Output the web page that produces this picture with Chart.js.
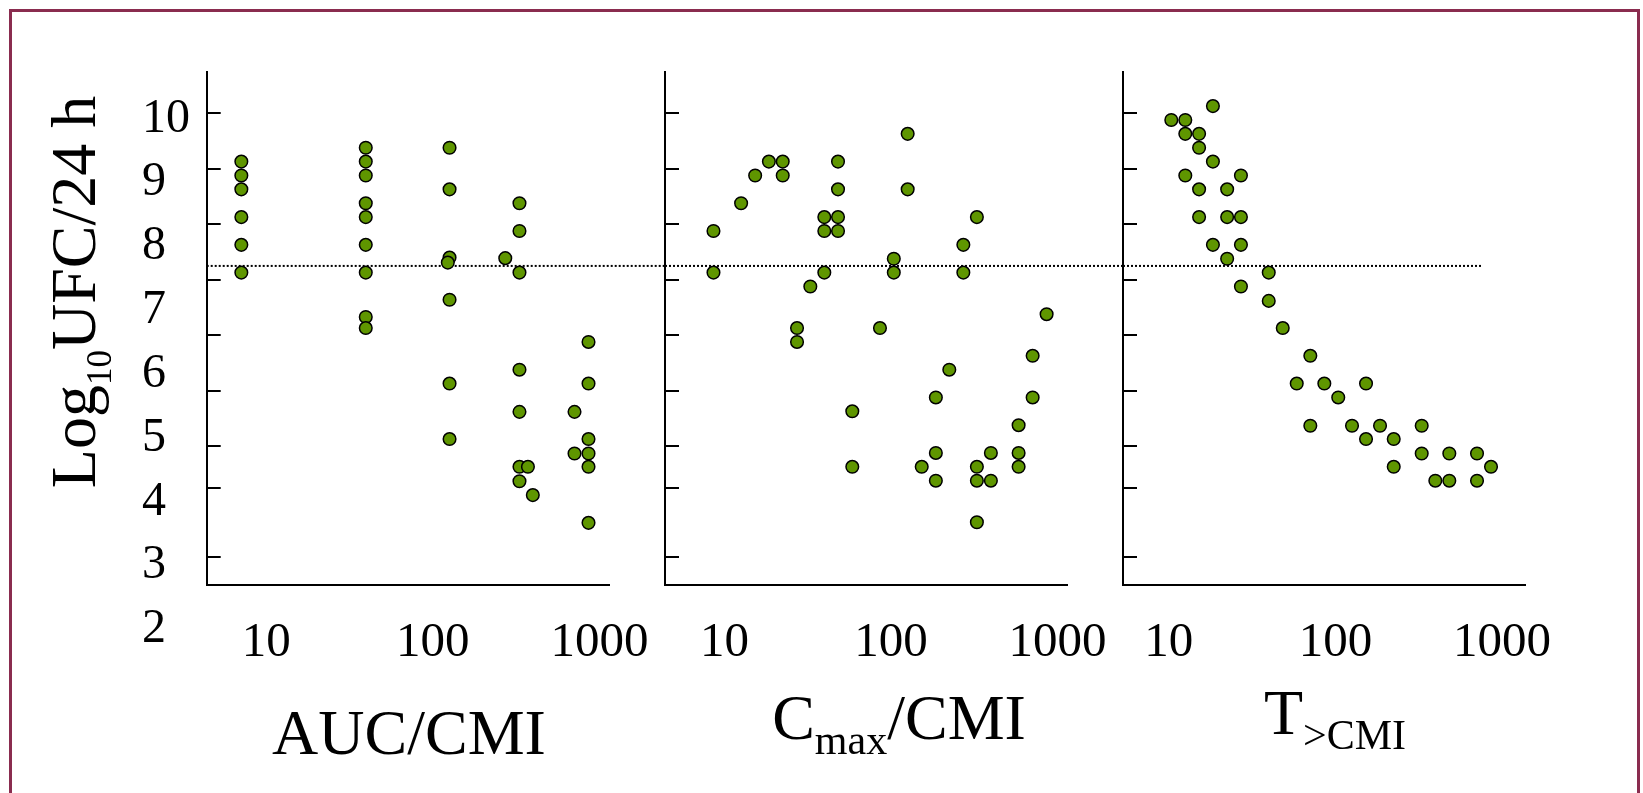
<!DOCTYPE html>
<html>
<head>
<meta charset="utf-8">
<script src="https://cdn.jsdelivr.net/npm/chart.js@4.4.1/dist/chart.umd.min.js"></script>
<style>
  html, body { margin: 0; padding: 0; background: #fff; }
  body { width: 1643px; height: 793px; position: relative; overflow: hidden; font-family: 'Liberation Serif', serif; color: #000; }
  .frame { position: absolute; left: 9px; top: 9px; width: 1631px; height: 820px; box-sizing: border-box;
           border: 3px solid #8a2c4f; border-bottom: none; }
  canvas { position: absolute; top: 40px; }
  .title { position: absolute; width: 500px; height: 64px; font-size: 64px; line-height: 64px;
           text-align: center; white-space: nowrap; }
  .sub { font-size: 42px; position: relative; top: 15px; }
  .sub10 { font-size: 35px; position: relative; top: 16px; }
</style>
</head>
<body>
<div class="frame"></div>
<canvas id="auc" width="565" height="700" style="left:100px"></canvas>
<canvas id="cmax" width="513" height="700" style="left:610px"></canvas>
<canvas id="tcmi" width="530" height="700" style="left:1070px"></canvas>

<div class="title" style="left:-175.6px; top:259.5px; transform: rotate(-90deg)">Log<span class="sub10">10</span>UFC/24 h</div>
<div class="title" style="left:159px; top:701.4px">AUC/CMI</div>
<div class="title" style="left:649px; top:686.4px">C<span class="sub">max</span>/CMI</div>
<div class="title" style="left:1085px; top:681.4px">T<span class="sub">&gt;CMI</span></div>

<script>
// axis values
const xTicks = [10, 100, 1000];
const yTickMarks = [10, 9, 8, 7, 6, 5, 4, 3.25, 2];
const yLabels = [10, 9, 8, 7, 6, 5, 4, 3, 2];
const threshold = 7.25;
const thresholdEndT = 760;   // dotted line stops here in the last panel

// AUC/CMI panel
const aucX = [7.1, 7.1, 7.1, 7.1, 7.1, 7.1,
  39.6, 39.6, 39.6, 39.6, 39.6, 39.6, 39.6, 39.6, 39.6,
  126, 126, 126, 126, 126, 126, 123,
  272,
  331, 331, 331, 331, 331, 331, 331,
  372, 398,
  708, 708,
  859, 859, 859, 859, 859, 859];
const aucY = [9.13, 8.88, 8.63, 8.13, 7.63, 7.13,
  9.38, 9.13, 8.88, 8.38, 8.13, 7.63, 7.13, 6.33, 6.13,
  9.38, 8.63, 7.4, 6.64, 5.13, 4.13, 7.31,
  7.39,
  8.38, 7.88, 7.13, 5.38, 4.62, 3.63, 3.37,
  3.63, 3.12,
  4.62, 3.87,
  5.88, 5.13, 4.13, 3.87, 3.63, 2.62];

// Cmax/CMI panel
const cmaxX = [8.6, 8.6, 12.6, 15.3, 18.5, 22.4, 22.4, 27.3, 27.3, 32.8,
  39.8, 39.8, 39.8, 48.1, 48.1, 48.1, 48.1, 58.6, 58.6, 85.9,
  104, 104, 126, 126, 153, 186, 186, 186, 224, 272,
  272, 328, 328, 328, 328, 398, 398, 584, 584, 584,
  709, 709, 860];
const cmaxY = [7.88, 7.13, 8.38, 8.88, 9.13, 9.13, 8.88, 6.13, 5.88, 6.88,
  8.13, 7.88, 7.13, 9.13, 8.63, 8.13, 7.88, 4.63, 3.63, 6.13,
  7.38, 7.13, 9.63, 8.63, 3.63, 4.88, 3.88, 3.38, 5.38, 7.63,
  7.13, 8.13, 3.63, 3.38, 2.63, 3.88, 3.38, 4.38, 3.88, 3.63,
  5.63, 4.88, 6.38];

// T>CMI panel
const tX = [18.4, 10.35, 12.56, 12.56, 15.2, 15.2, 18.4, 12.56, 27.1, 15.2,
  22.4, 15.2, 22.4, 27.1, 18.4, 27.1, 22.4, 39.8, 27.1, 39.8,
  48.3, 70.7, 58.6, 85.8, 152.7, 104, 70.7, 125.8, 185.3, 329.6,
  152.7, 223.9, 223.9, 329.6, 482.7, 707.9, 859, 397.8, 482.7, 707.9];
const tY = [10.13, 9.88, 9.88, 9.63, 9.63, 9.38, 9.13, 8.88, 8.88, 8.63,
  8.63, 8.13, 8.13, 8.13, 7.63, 7.63, 7.38, 7.13, 6.88, 6.62,
  6.13, 5.63, 5.13, 5.13, 5.13, 4.88, 4.37, 4.37, 4.37, 4.37,
  4.13, 4.13, 3.63, 3.87, 3.87, 3.87, 3.63, 3.38, 3.38, 3.38];

const serif = 'Liberation Serif';

// dotted reference line, drawn under the points
const thresholdLine = {
  id: 'thresholdLine',
  beforeDatasetsDraw(chart, args, opts) {
    const ctx = chart.ctx;
    const y = chart.scales.y.getPixelForValue(opts.value);
    const x0 = chart.chartArea.left;
    const x1 = opts.toValue != null ? chart.scales.x.getPixelForValue(opts.toValue) : chart.width;
    ctx.save();
    ctx.strokeStyle = '#000';
    ctx.lineWidth = 2;
    ctx.setLineDash([2, 2]);
    ctx.beginPath();
    ctx.moveTo(x0, y);
    ctx.lineTo(x1, y);
    ctx.stroke();
    ctx.restore();
  }
};

function makePanel(id, xs, ys, xMin, xMax, padding, withLabels, lineEnd) {
  const scales = {
    x: {
      type: 'logarithmic',
      min: xMin,
      max: xMax,
      afterBuildTicks: s => { s.ticks = xTicks.map(v => ({ value: v })); },
      afterFit: s => { s.height = 155; s.paddingLeft = 0; s.paddingRight = 0; },
      grid: { display: false },
      border: { display: true, color: '#000', width: 2 },
      ticks: {
        autoSkip: false, maxRotation: 0, padding: 20.5, color: '#000',
        font: { family: serif, size: 49 },
        callback: v => String(v)
      }
    },
    y: {
      min: 1.5,
      max: 10.75,
      weight: 0,
      afterBuildTicks: s => { s.ticks = yTickMarks.map(v => ({ value: v })); },
      afterFit: s => { s.width = 0; s.paddingTop = 0; s.paddingBottom = 0; },
      grid: { drawOnChartArea: false, drawTicks: true, tickLength: -14, color: '#000', lineWidth: 2 },
      border: { display: true, color: '#000', width: 2 },
      ticks: { display: false }
    }
  };
  if (withLabels) {
    scales.yLab = {
      position: 'left',
      weight: 1,
      min: 2.70,
      max: 10.74,
      afterBuildTicks: s => { s.ticks = yLabels.map(v => ({ value: v })); },
      afterFit: s => { s.width = 64.7; s.paddingTop = 0; s.paddingBottom = 0; },
      grid: { display: false },
      border: { display: false },
      ticks: {
        autoSkip: false, crossAlign: 'far', padding: 0, color: '#000',
        font: { family: serif, size: 48 },
        callback: v => String(v)
      }
    };
  }

  return new Chart(document.getElementById(id), {
    type: 'scatter',
    data: {
      datasets: [{
        data: xs.map((x, i) => ({ x: x, y: ys[i] })),
        pointRadius: 6.3,
        pointBorderWidth: 1.5,
        pointBackgroundColor: '#5f9600',
        pointBorderColor: '#000'
      }]
    },
    options: {
      responsive: false,
      animation: false,
      events: [],
      layout: { padding: padding },
      scales: scales,
      plugins: {
        legend: { display: false },
        tooltip: { enabled: false },
        thresholdLine: { value: threshold, toValue: lineEnd }
      }
    },
    plugins: [thresholdLine]
  });
}

makePanel('auc', aucX, aucY, 4.40, 1140, { left: 42, top: 31.7, right: 56, bottom: 0 }, true, null);
makePanel('cmax', cmaxX, cmaxY, 4.40, 1140, { left: 55, top: 31.7, right: 56, bottom: 0 }, false, null);
makePanel('tcmi', tX, tY, 5.31, 1374, { left: 53, top: 31.7, right: 75, bottom: 0 }, false, thresholdEndT);
</script>
</body>
</html>
